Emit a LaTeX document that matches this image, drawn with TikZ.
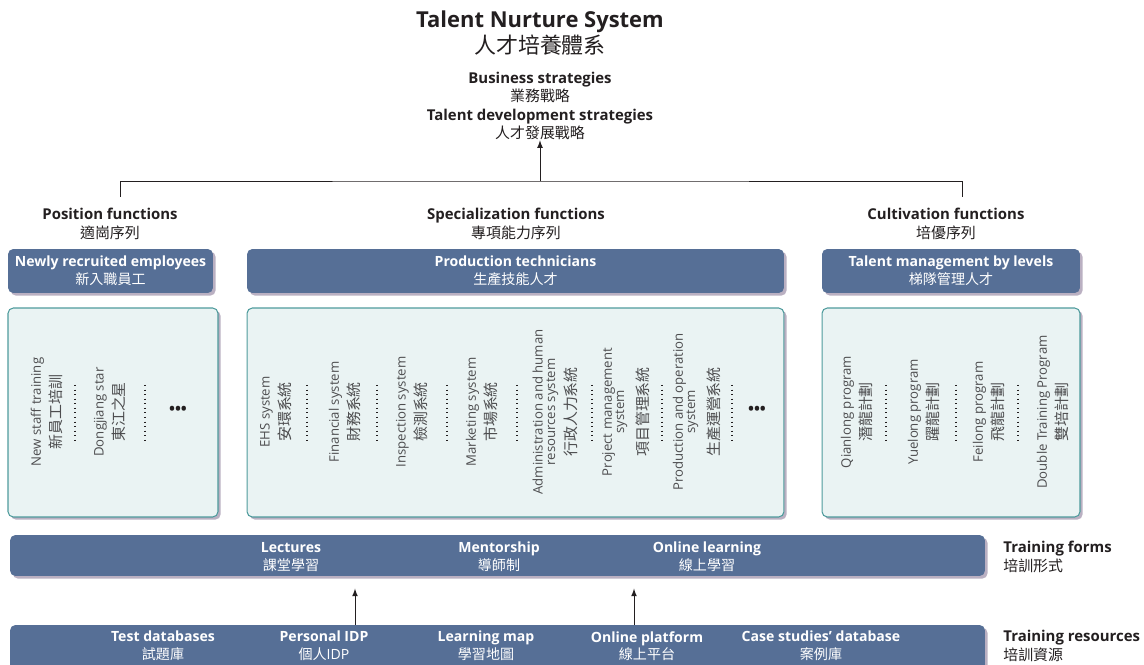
\documentclass[tikz,border=0pt]{standalone}
\usepackage{fontspec}
\setmainfont{Open Sans}
\newfontfamily\cjk{Noto Sans CJK TC}
\usetikzlibrary{arrows, shadows}
\usetikzlibrary{positioning}
\definecolor{barblue}{HTML}{566F96}
\definecolor{panelfill}{HTML}{EAF3F3}
\definecolor{panelline}{HTML}{4E9B9C}
\definecolor{shadowpurple}{HTML}{8C7C9A}
\definecolor{inkblack}{HTML}{231F20}
\definecolor{itemgray}{HTML}{4D4D4F}
\newcommand{\zh}[1]{{\cjk\fontsize{8.5}{9}\selectfont #1}}
\tikzstyle{head_text} = [
    text=inkblack,
    align=center,
    inner sep=0pt,
    font=\bfseries\fontsize{8.5}{10.5}\selectfont
]
\tikzstyle{blue_box} = [
    rounded corners=3pt,
    fill=barblue,
    text=white,
    align=center,
    inner sep=0pt,
    font=\bfseries\fontsize{8}{10}\selectfont,
    drop shadow={shadow xshift=1.5pt, shadow yshift=-1.5pt, fill=shadowpurple, opacity=.6}
]
\tikzstyle{panel} = [
    rounded corners=3pt,
    fill=panelfill,
    draw=panelline,
    line width=0.6pt,
    drop shadow={shadow xshift=1.5pt, shadow yshift=-1.5pt, fill=shadowpurple, opacity=.6}
]
\tikzstyle{bar_text} = [
    text=white,
    align=center,
    inner sep=0pt,
    font=\bfseries\fontsize{8}{10}\selectfont
]
\tikzstyle{item} = [
    rotate=90,
    text=itemgray,
    align=center,
    inner sep=0pt,
    font=\fontsize{7.5}{7}\selectfont
]
\tikzstyle{more} = [
    text=inkblack,
    inner sep=0pt,
    font=\bfseries\fontsize{9}{9}\selectfont
]
\tikzstyle{sep} = [dotted, line width=0.6pt, inkblack]
\tikzstyle{arr} = [-latex, line width=0.5pt, inkblack]

\begin{document}
\begin{tikzpicture}[x=0.02cm, y=-0.02cm]
\useasboundingbox (0,0) rectangle (1144,665);

% title and strategies
\node [head_text, font=\bfseries\fontsize{12.5}{15}\selectfont] (title) at (540,33)
    {Talent Nurture System\\{\cjk\mdseries 人才培養體系}};
\node [head_text] (strat) at (540,106)
    {Business strategies\\{\cjk\mdseries 業務戰略}\\Talent development strategies\\{\cjk\mdseries 人才發展戰略}};

% tree
\coordinate (split) at (540,181);
\coordinate (left_end) at (120,197);
\coordinate (right_end) at (962,197);
\draw [arr] (split) -- (strat.south);
\draw [line width=0.5pt, inkblack] (left_end) |- (split) -| (right_end);

% column headings
\node [head_text] (pos_head) at (110,224) {Position functions\\{\cjk\mdseries 適崗序列}};
\node [head_text] (spec_head) at (516,224) {Specialization functions\\{\cjk\mdseries 專項能力序列}};
\node [head_text] (cult_head) at (946,224) {Cultivation functions\\{\cjk\mdseries 培優序列}};

% blue headers
\node [blue_box, minimum width=4.1cm, minimum height=0.88cm] (new_box) at (110.5,271)
    {Newly recruited employees\\{\cjk\mdseries 新入職員工}};
\node [blue_box, minimum width=10.74cm, minimum height=0.88cm] (prod_box) at (515.5,271)
    {Production technicians\\{\cjk\mdseries 生產技能人才}};
\node [blue_box, minimum width=5.16cm, minimum height=0.88cm] (tal_box) at (951,271)
    {Talent management by levels\\{\cjk\mdseries 梯隊管理人才}};

% panels
\node [panel, minimum width=4.2cm, minimum height=4.18cm] (pos_panel) at (113,412.5) {};
\node [panel, minimum width=10.74cm, minimum height=4.18cm] (spec_panel) at (515.5,412.5) {};
\node [panel, minimum width=5.16cm, minimum height=4.18cm] (cult_panel) at (951,412.5) {};

% position items
\node [item] (staff) at (47,412) {New staff training\\[2pt]\zh{新員工培訓}};
\node [item] (star) at (110,412) {Dongjiang star\\[2pt]\zh{東江之星}};
\node [more] (pos_more) at (178,410) {\textbullet\textbullet\textbullet};
\foreach \x in {75,145}
    \draw [sep] (\x,385) -- (\x,440);

% specialization items
\node [item] (ehs) at (276,412) {EHS system\\[2pt]\zh{安環系統}};
\node [item] (fin) at (345,412) {Financial system\\[2pt]\zh{財務系統}};
\node [item] (insp) at (412,412) {Inspection system\\[2pt]\zh{檢測系統}};
\node [item] (mkt) at (482,412) {Marketing system\\[2pt]\zh{市場系統}};
\node [item] (admin) at (555,412) {Administration and human\\resources system\\[2pt]\zh{行政人力系統}};
\node [item] (proj) at (626,412) {Project management\\system\\[4pt]\zh{項目管理系統}};
\node [item] (oper) at (697,412) {Production and operation\\system\\[4pt]\zh{生產運營系統}};
\node [more] (spec_more) at (757,410) {\textbullet\textbullet\textbullet};
\foreach \x in {307,377,447,517,592,662,732}
    \draw [sep] (\x,385) -- (\x,440);

% cultivation items
\node [item] (qian) at (857,412) {Qianlong program\\[2pt]\zh{潛龍計劃}};
\node [item] (yue) at (924,412) {Yuelong program\\[2pt]\zh{躍龍計劃}};
\node [item] (fei) at (989,412) {Feilong program\\[2pt]\zh{飛龍計劃}};
\node [item] (dbl) at (1053,412) {Double Training Program\\[2pt]\zh{雙培計劃}};
\foreach \x in {886,956,1018}
    \draw [sep] (\x,385) -- (\x,440);

% training forms
\node [blue_box, minimum width=19.5cm, minimum height=0.82cm] (form_bar) at (497.5,555.5) {};
\node [bar_text] (lect) at (291,557) {Lectures\\{\cjk\mdseries 課堂學習}};
\node [bar_text] (ment) at (499,557) {Mentorship\\{\cjk\mdseries 導師制}};
\node [bar_text] (onl) at (707,557) {Online learning\\{\cjk\mdseries 線上學習}};
\node [head_text, anchor=west, align=left] (form_lbl) at (1003,557) {Training forms\\{\cjk\mdseries 培訓形式}};

% training resources
\node [blue_box, minimum width=19.5cm, minimum height=1.0cm] (res_bar) at (497.5,650) {};
\node [bar_text] (test) at (163,646) {Test databases\\{\cjk\mdseries 試題庫}};
\node [bar_text] (idp) at (324,646) {Personal IDP\\{\cjk\mdseries 個人}\mdseries IDP};
\node [bar_text] (map) at (486,646) {Learning map\\{\cjk\mdseries 學習地圖}};
\node [bar_text] (plat) at (647,646) {Online platform\\{\cjk\mdseries 線上平台}};
\node [bar_text] (case) at (821,646) {Case studies’ database\\{\cjk\mdseries 案例庫}};
\node [head_text, anchor=west, align=left] (res_lbl) at (1003,646) {Training resources\\{\cjk\mdseries 培訓資源}};

% arrows between bars
\coordinate (up_a) at (355,625);
\coordinate (up_b) at (634,625);
\draw [arr, shorten >=7pt] (up_a) -- (up_a |- form_bar.south);
\draw [arr, shorten >=7pt] (up_b) -- (up_b |- form_bar.south);
\end{tikzpicture}
\end{document}
